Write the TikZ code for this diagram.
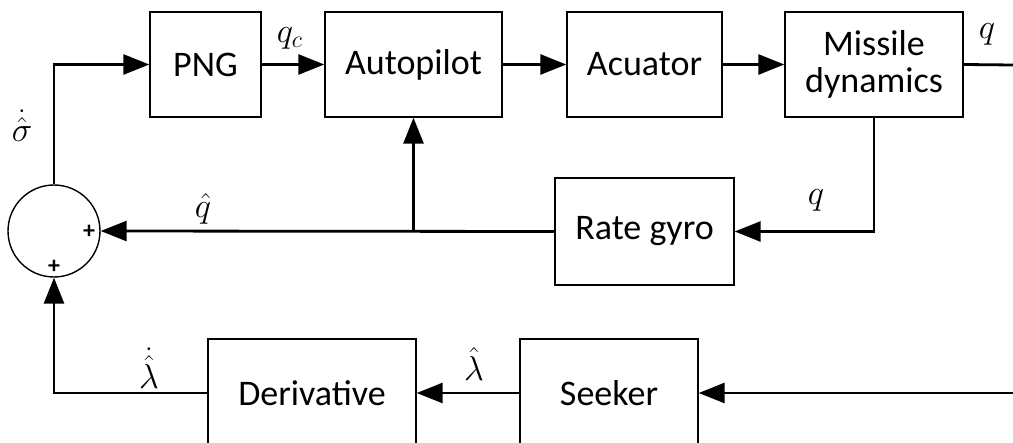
\documentclass[tikz,border=0pt]{standalone}
\usepackage{fontspec}
\setmainfont{Carlito}
\usetikzlibrary{arrows.meta}
\begin{document}
\begin{tikzpicture}[x=0.5pt,y=-0.5pt,
  blk/.style={draw,line width=0.7pt,inner sep=0pt,font=\fontsize{18}{18.5}\selectfont,align=center},
  arr/.style={line width=1.4pt,-{Triangle[length=13pt,width=10pt]}},
  ln/.style={line width=1.4pt},
  lab/.style={font=\fontsize{18}{20}\selectfont},
  pm/.style={font=\fontsize{12}{13}\selectfont\bfseries,inner sep=0pt}]
\useasboundingbox (0,0) rectangle (1013,443);
\clip (0,0) rectangle (1013,443);
\node[blk,minimum width=55.5pt,minimum height=52.5pt] (png) at (205.5,64.5) {PNG};
\node[blk,minimum width=88.5pt,minimum height=52.5pt] (ap) at (413.5,64.5) {Autopilot};
\node[blk,minimum width=77.5pt,minimum height=52.5pt] (act) at (644.5,64.5) {Acuator};
\node[blk,minimum width=89pt,minimum height=52.5pt] (md) at (874,64.5) {Missile\\dynamics};
\node[blk,minimum width=89.5pt,minimum height=53.5pt] (rg) at (644.5,231.5) {Rate gyro};
\node[blk,minimum width=104pt,minimum height=54pt] (der) at (312,393) {Derivative};
\node[blk,minimum width=89pt,minimum height=54pt] (sk) at (609,393) {Seeker};
\node[draw,circle,line width=0.7pt,minimum size=46pt,inner sep=0pt] (sum) at (54,231) {};
\node[pm] (p1) at (89,232) {+};
\node[pm] (p2) at (54,267) {+};
\coordinate (out) at (1013,65);
\coordinate (in) at (1013,393);
\coordinate (jn) at (413.5,232);
\draw[arr] (sum.north) |- (png.west);
\draw[arr] (png.east) -- (ap.west);
\draw[arr] (ap.east) -- (act.west);
\draw[arr] (act.east) -- (md.west);
\draw[ln] (md.east) -- (out);
\draw[arr] (md.south) |- (rg.east);
\draw[arr] (rg.west) -- (sum.east);
\draw[arr] (jn) -- (ap.south);
\draw[arr] (in) -- (sk.east);
\draw[arr] (sk.west) -- (der.east);
\draw[arr] (der.west) -| (sum.south);
\node[lab] (lqc) at (290,38) {$q_c$};
\node[lab] (lsig) at (22,126) {$\dot{\hat{\sigma}}$};
\node[lab] (lqh) at (203,209) {$\hat{q}$};
\node[lab] (lq1) at (987,34) {$q$};
\node[lab] (lq2) at (816,200) {$q$};
\node[lab] (llh) at (474,364) {$\hat{\lambda}$};
\node[lab] (llhd) at (149,368) {$\dot{\hat{\lambda}}$};
\end{tikzpicture}
\end{document}
